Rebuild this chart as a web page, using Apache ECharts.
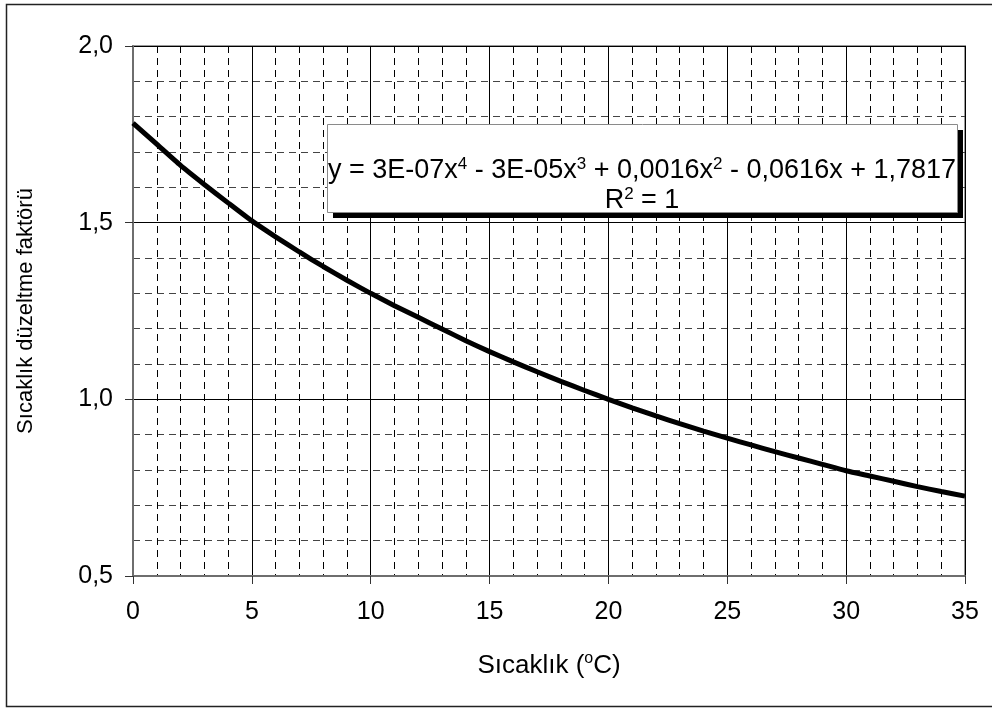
<!DOCTYPE html>
<html>
<head>
<meta charset="utf-8">
<script src="https://cdn.jsdelivr.net/npm/echarts@6/dist/echarts.min.js"></script>
<style>
	html, body { margin: 0; padding: 0; background: #fff; }
	#chart { width: 992px; height: 708px; }
</style>
</head>
<body>
<div id="chart"></div>
<script>
// sıcaklık (°C)
const temps = [0, 1, 2, 3, 4, 5, 6, 7, 8, 9, 10, 11, 12, 13, 14, 15, 16, 17, 18, 19, 20, 21, 22, 23, 24, 25, 26, 27, 28, 29, 30, 31, 32, 33, 34, 35]
// düzeltme faktörü
const factors = [1.782, 1.722, 1.662, 1.608, 1.556, 1.505, 1.460, 1.417, 1.376, 1.337, 1.300, 1.265, 1.232, 1.199, 1.166, 1.135, 1.106, 1.078, 1.051, 1.025, 1.000, 0.976, 0.953, 0.931, 0.910, 0.890, 0.871, 0.852, 0.834, 0.816, 0.798, 0.783, 0.768, 0.753, 0.739, 0.726]
const eqLine1 = '{t|y = 3E-07x}{s|4}{t| - 3E-05x}{s|3}{t| + 0,0016x}{s|2}{t| - 0,0616x + 1,7817}'
const eqLine2 = '{t|R}{s|2}{t| = 1}'

const FONT = 'Liberation Sans'
const chart = echarts.init(document.getElementById('chart'), null, { renderer: 'canvas' })

const comma = function(v, d) {
	return v.toFixed(d).replace('.', ',')
}
const data = temps.map((t, i) => [t, factors[i]])
const eqRich = {
	t: { fontFamily: FONT, fontSize: 27, color: '#000' },
	s: { fontFamily: FONT, fontSize: 17, color: '#000', padding: [0, 0, 13, 0] },
}

const options = {
	animation: false,
	backgroundColor: '#fff',
	grid: {
		left: 133,
		top: 46,
		right: 27,
		bottom: 132,
		show: true,
		borderColor: '#9a9a9a',
		borderWidth: 2,
	},
	xAxis: {
		type: 'value',
		min: 0,
		max: 35,
		interval: 5,
		name: 'Sıcaklık ({sup|o}C)',
		nameLocation: 'middle',
		nameGap: 75,
		nameTextStyle: {
			fontFamily: FONT,
			fontSize: 26,
			color: '#000',
			rich: {
				sup: { fontFamily: FONT, fontSize: 16, color: '#000', padding: [0, 0, 13, 0] },
			},
		},
		axisLine: { lineStyle: { color: '#6e6e6e', width: 2 } },
		axisTick: { length: 8, lineStyle: { color: '#333', width: 1 } },
		axisLabel: { fontFamily: FONT, fontSize: 25, color: '#000', margin: 24 },
		splitLine: { show: true, lineStyle: { color: '#000', width: 1 } },
		minorTick: { show: false, splitNumber: 5 },
		minorSplitLine: { show: true, lineStyle: { color: '#000', width: 1, type: [7, 5] } },
	},
	yAxis: {
		type: 'value',
		min: 0.5,
		max: 2.0,
		interval: 0.5,
		name: 'Sıcaklık düzeltme faktörü',
		nameLocation: 'middle',
		nameGap: 96,
		nameRotate: 90,
		nameTextStyle: { fontFamily: FONT, fontSize: 22, color: '#000' },
		axisLine: { show: true, lineStyle: { color: '#6e6e6e', width: 2 } },
		axisTick: { show: true, length: 8, lineStyle: { color: '#333', width: 1 } },
		axisLabel: {
			fontFamily: FONT,
			fontSize: 25,
			color: '#000',
			margin: 20,
			formatter: v => comma(v, 1),
		},
		splitLine: { show: true, lineStyle: { color: '#000', width: 1 } },
		minorTick: { show: false, splitNumber: 5 },
		minorSplitLine: { show: true, lineStyle: { color: '#444', width: 1, type: [7, 5] } },
	},
	series: [
		{
			type: 'line',
			data: data,
			symbol: 'none',
			smooth: 0.2,
			lineStyle: { color: '#000', width: 5 },
			z: 3,
		},
	],
	graphic: [
		// outer chart frame
		{
			type: 'rect',
			shape: { x: 6.5, y: 4.5, width: 995, height: 702 },
			style: { fill: null, stroke: '#222', lineWidth: 1.5 },
			z: 0,
		},
		// equation label with its shadow
		{
			type: 'rect',
			shape: { x: 333, y: 130, width: 630, height: 88 },
			style: { fill: '#000' },
			z: 10,
		},
		{
			type: 'rect',
			shape: { x: 327.5, y: 124.5, width: 630, height: 88 },
			style: { fill: '#fff', stroke: '#8a8a8a', lineWidth: 1 },
			z: 11,
		},
		{
			type: 'text',
			x: 642,
			y: 171,
			style: { text: eqLine1, align: 'center', verticalAlign: 'middle', rich: eqRich },
			z: 12,
		},
		{
			type: 'text',
			x: 642,
			y: 201,
			style: { text: eqLine2, align: 'center', verticalAlign: 'middle', rich: eqRich },
			z: 12,
		},
	],
}
chart.setOption(options)
</script>
</body>
</html>
